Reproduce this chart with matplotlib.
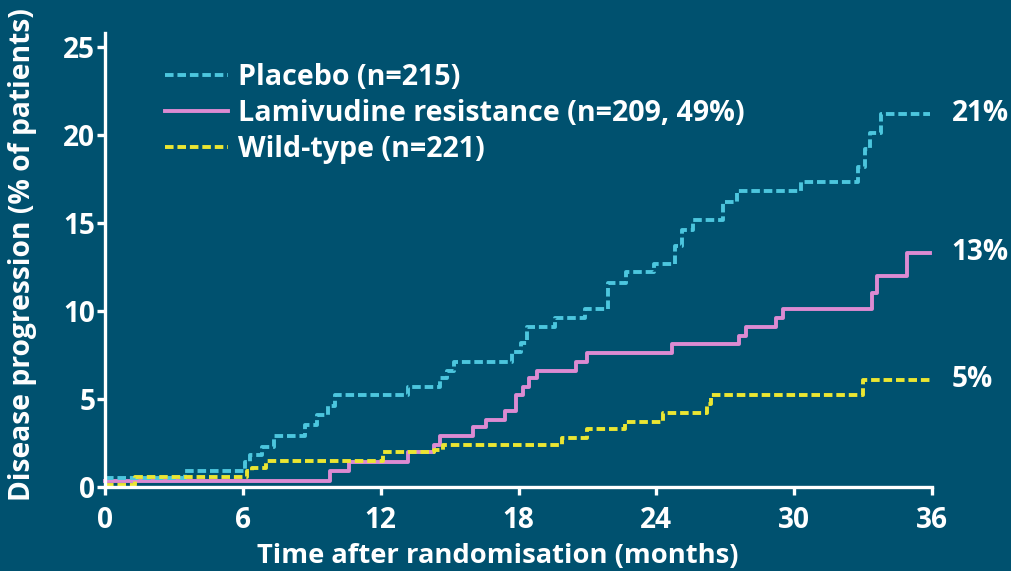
import matplotlib
matplotlib.use("Agg")
import matplotlib.pyplot as plt

# Step data (time in months, cumulative % progression)
placebo_t = [0, 3.5, 6.1, 6.3, 6.85, 7.35, 8.7, 9.25, 9.7, 10.0, 13.2, 14.6, 14.9, 15.2,
             17.7, 18.1, 18.35, 19.6, 20.9, 21.9, 22.7, 23.9, 24.8, 25.1, 25.6, 26.9, 27.5,
             30.3, 32.8, 33.1, 33.3, 33.8, 35.9]
placebo_v = [0.5, 0.9, 1.4, 1.8, 2.3, 2.9, 3.5, 4.1, 4.6, 5.2, 5.7, 6.2, 6.6, 7.1,
             7.7, 8.2, 9.1, 9.6, 10.1, 11.6, 12.2, 12.7, 13.7, 14.6, 15.2, 16.2, 16.8,
             17.35, 18.2, 19.2, 20.1, 21.2, 21.2]

lami_t = [0, 9.8, 10.6, 13.2, 14.3, 14.6, 16.0, 16.6, 17.4, 17.9, 18.2, 18.45, 18.8,
          20.5, 21.0, 24.7, 27.6, 27.9, 29.2, 29.5, 33.4, 33.6, 34.9, 35.9]
lami_v = [0.35, 0.9, 1.4, 2.0, 2.4, 2.9, 3.4, 3.8, 4.3, 5.2, 5.7, 6.2, 6.6,
          7.1, 7.6, 8.1, 8.6, 9.1, 9.6, 10.1, 11.0, 12.0, 13.3, 13.3]

wild_t = [0, 1.3, 6.2, 6.4, 7.0, 12.1, 14.3, 14.7, 19.9, 21.0, 22.65, 24.3, 26.2, 26.4, 33.0, 35.9]
wild_v = [0.1, 0.55, 0.9, 1.1, 1.5, 2.0, 2.1, 2.4, 2.8, 3.3, 3.7, 4.2, 4.7, 5.2, 6.1, 6.1]

series_labels = ["Placebo (n=215)", "Lamivudine resistance (n=209, 49%)", "Wild-type (n=221)"]
end_labels = ["21%", "13%", "5%"]
x_ticks = [0, 6, 12, 18, 24, 30, 36]
y_ticks = [0, 5, 10, 15, 20, 25]
x_label = "Time after randomisation (months)"
y_label = "Disease progression (% of patients)"

BG = "#00516f"
CYAN = "#4cc6de"
PINK = "#dc8bd2"
YELLOW = "#ebe632"
WHITE = "#ffffff"

FONT = ["Open Sans", "DejaVu Sans"]
WEIGHT = "bold"
plt.rcParams['font.family'] = FONT

W, H = 1011, 571
fig = plt.figure(figsize=(W / 100, H / 100), dpi=100, facecolor=BG)
x0, x1 = 105, 932
y0, ytop = 487, 33
ax = fig.add_axes([x0 / W, (H - y0) / H, (x1 - x0) / W, (y0 - ytop) / H])
ax.set_facecolor(BG)

lw = 2.8
dash = (2.2, 1.0)
ax.step(placebo_t, placebo_v, where="post", color=CYAN, lw=lw, dashes=dash,
        label=series_labels[0], clip_on=False, zorder=3)
ax.step(lami_t, lami_v, where="post", color=PINK, lw=lw, label=series_labels[1],
        clip_on=False, zorder=2)
ax.step(wild_t, wild_v, where="post", color=YELLOW, lw=lw, dashes=dash,
        label=series_labels[2], clip_on=False, zorder=3)

ax.set_xlim(0, 36)
ax.set_ylim(0, 25.8)
ax.set_xticks(x_ticks)
ax.set_yticks(y_ticks)
for s in ["top", "right"]:
    ax.spines[s].set_visible(False)
for s in ["left", "bottom"]:
    ax.spines[s].set_color(WHITE)
    ax.spines[s].set_linewidth(2.4)
    ax.spines[s].set_zorder(4)
ax.tick_params(colors=WHITE, width=2.4, length=6)
ax.tick_params(axis="x", pad=8)
ax.tick_params(axis="y", pad=1)
for lab in ax.get_xticklabels() + ax.get_yticklabels():
    lab.set_fontweight(WEIGHT)
    lab.set_fontsize(17)

xl = fig.text(498 / W, 1 - 556 / H, x_label, color=WHITE, fontsize=17,
              fontweight=WEIGHT, ha="center", va="center")
yl = fig.text(23 / W, 1 - 255 / H, y_label, color=WHITE, fontsize=17,
              fontweight=WEIGHT, ha="center", va="center", rotation=90)

end_texts = []
ends = [placebo_v[-1], lami_v[-1], wild_v[-1]]
for v, txt in zip(ends, end_labels):
    t = ax.annotate(txt, xy=(36, v), xytext=(14, 0), textcoords="offset points",
                    color=WHITE, fontsize=17, fontweight=WEIGHT, va="center",
                    annotation_clip=False)
    end_texts.append(t)


def make_legend(fs, ls):
    lg = ax.legend(loc="upper left", bbox_to_anchor=(165 / W, 1 - 63 / H),
                   bbox_transform=fig.transFigure, frameon=False,
                   handlelength=63 / fs, handletextpad=10 / fs, labelspacing=ls,
                   borderpad=0, borderaxespad=0,
                   prop={"weight": WEIGHT, "size": fs * 72 / 100})
    for t in lg.get_texts():
        t.set_color(WHITE)
    return lg


# fit text sizes to the reference pixel extents
fig.canvas.draw()
r = fig.canvas.get_renderer()
bb = xl.get_window_extent(r)
xl.set_fontsize(xl.get_fontsize() * 483 / bb.width)
bb = yl.get_window_extent(r)
yl.set_fontsize(yl.get_fontsize() * 494 / bb.height)

tick_fs = 17
for lab in ax.get_yticklabels():
    if lab.get_text() == "25":
        bb = lab.get_window_extent(r)
        tick_fs = 17 * 32 / bb.width
ax.tick_params(labelsize=tick_fs)
for t in end_texts:
    t.set_fontsize(tick_fs)

leg_px = 22.0
ls = 0.3
leg = make_legend(leg_px, ls)
for _ in range(3):
    fig.canvas.draw()
    texts = leg.get_texts()
    w = texts[1].get_window_extent(r).width
    leg_px *= 508 / w
    leg.remove()
    leg = make_legend(leg_px, ls)
    fig.canvas.draw()
    texts = leg.get_texts()
    c0 = texts[0].get_window_extent(r)
    c1 = texts[1].get_window_extent(r)
    pitch = (c0.y0 + c0.y1) / 2 - (c1.y0 + c1.y1) / 2
    ls += (36 - pitch) / leg_px
    leg.remove()
    leg = make_legend(leg_px, ls)

fig.savefig("out.png", dpi=100, facecolor=BG)
